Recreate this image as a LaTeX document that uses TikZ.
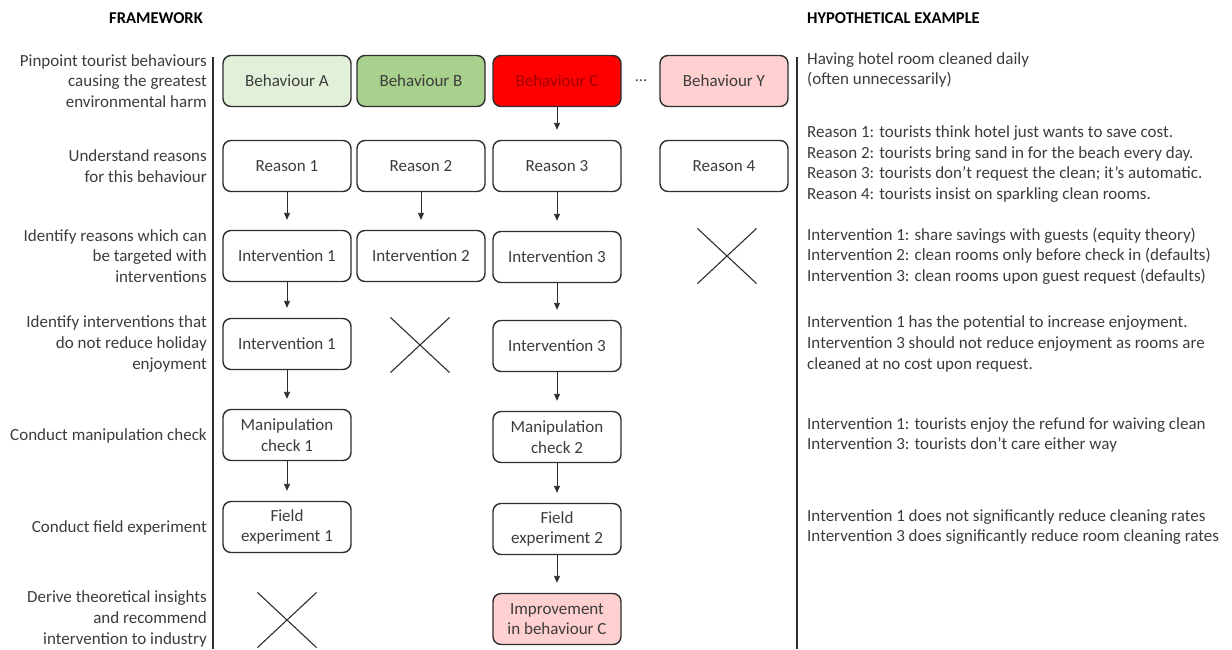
\documentclass[tikz,border=0pt]{standalone}
\usepackage{fontspec}
\setmainfont{Carlito}
\usetikzlibrary{arrows.meta, shapes.misc}
\definecolor{TextGray}{HTML}{3C3C3C}
\definecolor{EdgeGray}{HTML}{2E2E2E}
\definecolor{GreenPale}{HTML}{E2F0D9}
\definecolor{GreenMid}{HTML}{A9D18E}
\definecolor{RedFull}{HTML}{FF0000}
\definecolor{RedText}{HTML}{A00000}
\definecolor{PinkPale}{HTML}{FFD0D0}
\tikzset{
  stepbox/.style={draw=EdgeGray, line width=1.4pt, rounded corners=8pt, minimum width=128pt,
    minimum height=51pt, inner sep=2pt, align=center, text=TextGray, font=\fontsize{17}{20.5}\selectfont},
  nogo/.style={cross out, draw=EdgeGray, line width=1.1pt, inner sep=0pt, minimum width=58pt, minimum height=54pt},
  flow/.style={-{Triangle[length=7pt,width=6pt]}, line width=0.9pt, draw=EdgeGray, shorten >=10pt},
  stagetext/.style={anchor=east, align=right, inner sep=0pt, text=TextGray, font=\fontsize{17}{20.7}\selectfont},
  exampletext/.style={anchor=west, align=left, inner sep=0pt, text=TextGray, font=\fontsize{17}{20.7}\selectfont},
  heading/.style={inner sep=0pt, text=black, font=\fontsize{16.5}{19}\selectfont\bfseries},
  divider/.style={line width=1.6pt, draw=EdgeGray}
}
\begin{document}
\begin{tikzpicture}[x=1pt, y=-1pt]
\useasboundingbox (0,0) rectangle (1232,649);

% Headings
\node[heading, anchor=east] (hdframe) at (203,18) {FRAMEWORK};
\node[heading, anchor=west] (hdexample) at (807,18) {HYPOTHETICAL EXAMPLE};

% Dividers
\draw[divider] (213,57) -- (213,649);
\draw[divider] (797,57) -- (797,649);

% Framework stages
\node[stagetext] (stg1) at (207,81) {Pinpoint tourist behaviours\\causing the greatest\\environmental harm};
\node[stagetext] (stg2) at (207,166) {Understand reasons\\for this behaviour};
\node[stagetext] (stg3) at (207,256) {Identify reasons which can\\be targeted with\\interventions};
\node[stagetext] (stg4) at (207,344) {Identify interventions that\\do not reduce holiday\\enjoyment};
\node[stagetext] (stg5) at (207,436) {Conduct manipulation check};
\node[stagetext] (stg6) at (207,528) {Conduct field experiment};
\node[stagetext] (stg7) at (207,619) {Derive theoretical insights\\and recommend\\intervention to industry};

% Behaviours
\node[stepbox, fill=GreenPale] (behA) at (287,81) {Behaviour A};
\node[stepbox, fill=GreenMid] (behB) at (421,81) {Behaviour B};
\node[stepbox, fill=RedFull, text=RedText] (behC) at (557,81) {Behaviour C};
\node[text=TextGray, font=\fontsize{16}{20}\selectfont] (dots) at (641,81) {...};
\node[stepbox, fill=PinkPale] (behY) at (724,81) {Behaviour Y};

% Reasons
\node[stepbox] (rsn1) at (287,166) {Reason 1};
\node[stepbox] (rsn2) at (421,166) {Reason 2};
\node[stepbox] (rsn3) at (557,166) {Reason 3};
\node[stepbox] (rsn4) at (724,166) {Reason 4};

% Interventions
\node[stepbox] (int1) at (287,256) {Intervention 1};
\node[stepbox] (int2) at (421,256) {Intervention 2};
\node[stepbox] (int3) at (557,257) {Intervention 3};
\node[nogo] (no4) at (727,256) {};

% Enjoyment filter
\node[stepbox] (enj1) at (287,344) {Intervention 1};
\node[nogo] (no2) at (420,345) {};
\node[stepbox] (enj3) at (557,346) {Intervention 3};

% Manipulation check
\node[stepbox] (man1) at (287,435) {Manipulation\\check 1};
\node[stepbox] (man2) at (557,437) {Manipulation\\check 2};

% Field experiment
\node[stepbox] (fld1) at (287,527) {Field\\experiment 1};
\node[stepbox] (fld2) at (557,529) {Field\\experiment 2};

% Outcome
\node[nogo] (no1) at (287,620) {};
\node[stepbox, fill=PinkPale] (imp3) at (557,619) {Improvement\\in behaviour C};

% Arrows
\draw[flow] (behC) -- (rsn3);
\draw[flow] (rsn1) -- (int1);
\draw[flow] (rsn2) -- (int2);
\draw[flow] (rsn3) -- (int3);
\draw[flow] (int1) -- (enj1);
\draw[flow] (int3) -- (enj3);
\draw[flow] (enj1) -- (man1);
\draw[flow] (enj3) -- (man2);
\draw[flow] (man1) -- (fld1);
\draw[flow] (man2) -- (fld2);
\draw[flow] (fld2) -- (imp3);

% Hypothetical example
\node[exampletext] (ex1) at (807,70) {Having hotel room cleaned daily\\(often unnecessarily)};
\node[exampletext] (ex2) at (807,164) {Reason 1: tourists think hotel just wants to save cost.\\Reason 2: tourists bring sand in for the beach every day.\\Reason 3: tourists don’t request the clean; it’s automatic.\\Reason 4: tourists insist on sparkling clean rooms.};
\node[exampletext] (ex3) at (807,256) {Intervention 1: share savings with guests (equity theory)\\Intervention 2: clean rooms only before check in (defaults)\\Intervention 3: clean rooms upon guest request (defaults)};
\node[exampletext] (ex4) at (807,344) {Intervention 1 has the potential to increase enjoyment.\\Intervention 3 should not reduce enjoyment as rooms are\\cleaned at no cost upon request.};
\node[exampletext] (ex5) at (807,435) {Intervention 1: tourists enjoy the refund for waiving clean\\Intervention 3: tourists don’t care either way};
\node[exampletext] (ex6) at (807,527) {Intervention 1 does not significantly reduce cleaning rates\\Intervention 3 does significantly reduce room cleaning rates};
\end{tikzpicture}
\end{document}
